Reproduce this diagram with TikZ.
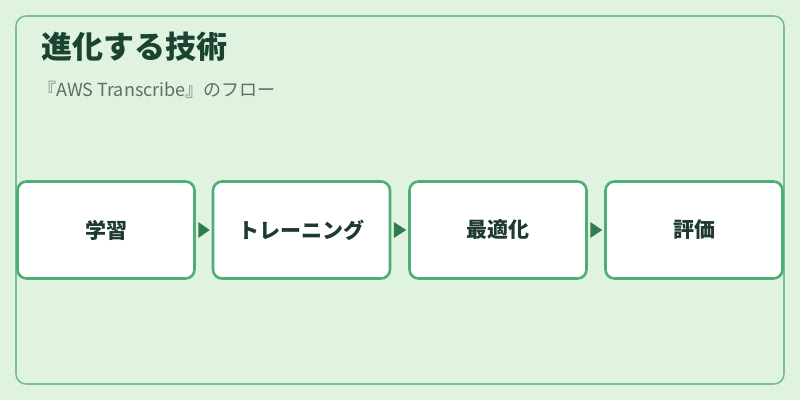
\documentclass[tikz,border=0pt]{standalone}
\usepackage{fontspec}
\setmainfont{Noto Sans CJK JP}
\usetikzlibrary{calc}
\definecolor{bgc}{HTML}{E0F2E0}
\definecolor{framec}{HTML}{7CBF94}
\definecolor{boxc}{HTML}{4CAF73}
\definecolor{arrc}{HTML}{2E7D4F}
\definecolor{titlec}{HTML}{1B4332}
\definecolor{subc}{HTML}{5F6F62}
\definecolor{textc}{HTML}{1E3A2F}
\tikzset{
  stepbox/.style={draw=boxc, line width=2.6pt, fill=white, rounded corners=9pt,
    minimum width=177pt, minimum height=97pt, inner sep=0pt,
    font=\fontsize{21pt}{24pt}\selectfont\bfseries, text=textc},
}
\begin{document}
\begin{tikzpicture}[x=1pt,y=-1pt]
\fill[bgc] (0,0) rectangle (800,400);
\useasboundingbox (0,0) rectangle (800,400);
\draw[framec, line width=1.6pt, rounded corners=10pt] (16,16) rectangle (784,384);
\node[anchor=base west, text=titlec, font=\fontsize{31pt}{34pt}\selectfont\bfseries, inner sep=0pt] (title) at (41,58) {進化する技術};
\node[anchor=base west, text=subc, font=\fontsize{18pt}{21pt}\selectfont, inner sep=0pt] (sub) at (38,96) {『AWS Transcribe』のフロー};
\node[stepbox] (b1) at (106,230) {学習};
\node[stepbox] (b2) at (301.5,230) {トレーニング};
\node[stepbox] (b3) at (498,230) {最適化};
\node[stepbox] (b4) at (694,230) {評価};
\foreach \a/\b in {b1/b2,b2/b3,b3/b4}{
  \fill[arrc] ($(\a.east)+(2.5pt,-8pt)$) -- ($(\b.west)+(-2pt,0)$) -- ($(\a.east)+(2.5pt,8pt)$) -- cycle;
}
\end{tikzpicture}
\end{document}
